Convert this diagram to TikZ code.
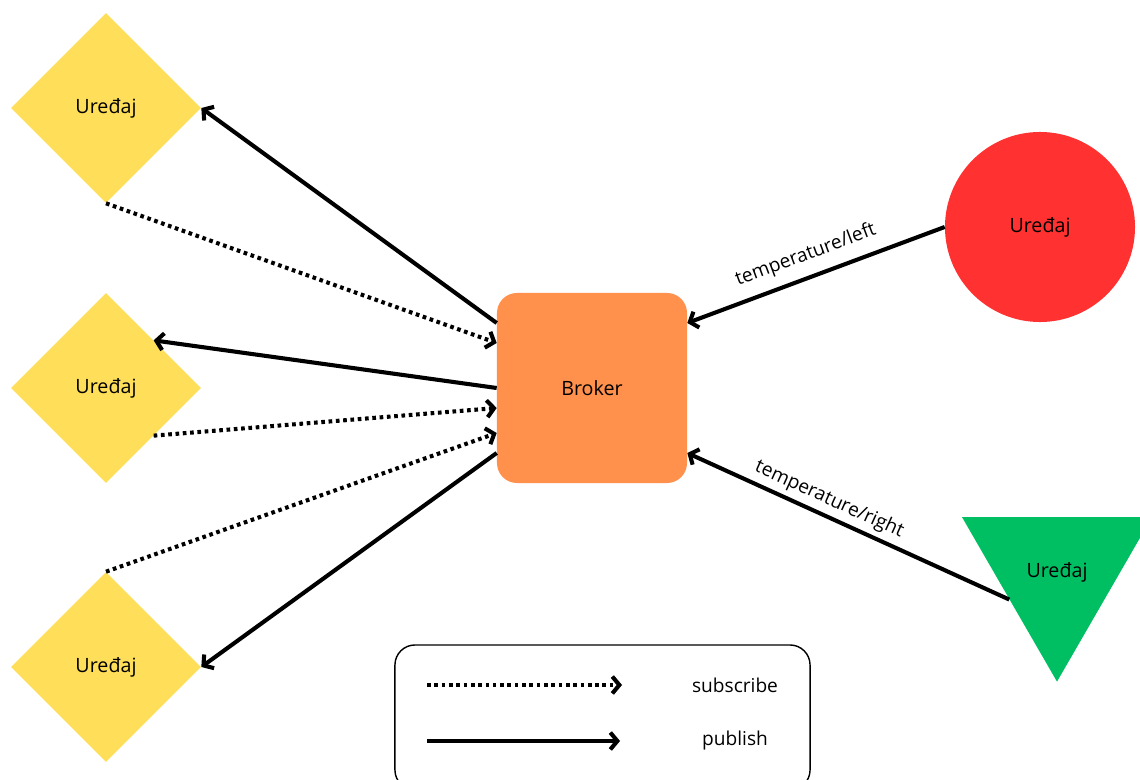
\documentclass[tikz,border=0pt]{standalone}
\usepackage{fontspec}
\setmainfont{Open Sans}
\usetikzlibrary{shapes.geometric,arrows.meta,calc}
\definecolor{devyellow}{HTML}{FFDE59}
\definecolor{brokerorange}{HTML}{FF914D}
\definecolor{devred}{HTML}{FF3131}
\definecolor{devgreen}{HTML}{00BF63}

\begin{document}
\begin{tikzpicture}[x=0.025cm,y=-0.025cm,
    label font/.style={font=\fontsize{14}{17}\selectfont},
    device/.style={diamond,fill=devyellow,minimum width=4.75cm,
      minimum height=4.75cm,inner sep=0pt,label font},
    pub/.style={line width=2.9pt,-{Straight Barb[length=5pt,width=12pt]}},
    sub/.style={pub,dash pattern=on 2.6pt off 2.6pt},
    topic/.style={font=\fontsize{13.6}{16}\selectfont,sloped,above}]
  \useasboundingbox (0,0) rectangle (1140,780);
  \clip (0,0) rectangle (1140,780);

  % devices on the left
  \node[device] (d1) at (106,108) {Uređaj};
  \node[device] (d2) at (106,388) {Uređaj};
  \node[device] (d3) at (106,667) {Uređaj};

  % broker and publishers
  \node[rectangle,rounded corners=0.5cm,fill=brokerorange,
    minimum size=4.75cm,label font] (broker) at (592,388) {Broker};
  \node[circle,fill=devred,minimum size=4.75cm,label font] (circ)
    at (1040,227) {Uređaj};
  \node[regular polygon,regular polygon sides=3,shape border rotate=180,
    fill=devgreen,minimum size=5.48cm,inner sep=0pt,label font] (tri)
    at (1057,572) {Uređaj};

  \draw[pub] ($(broker.west)+(0,-65)$) -- (d1.east);
  \draw[sub] (d1.south) -- ($(broker.west)+(0,-45)$);
  \draw[pub] (broker.west) -- (d2.north east);
  \draw[sub] (d2.south east) -- ($(broker.west)+(0,20)$);
  \draw[sub] (d3.north) -- ($(broker.west)+(0,45)$);
  \draw[pub] ($(broker.west)+(0,65)$) -- (d3.east);

  \draw[pub] (circ.west) -- node[topic,pos=0.51,yshift=4pt] {temperature/left}
    ($(broker.east)+(0,-65)$);
  \draw[pub] (tri.side 3) -- node[topic,pos=0.58] {temperature/right}
    ($(broker.east)+(0,65)$);

  % legend
  \node[draw,line width=1pt,rounded corners=0.5cm,minimum width=10.375cm,
    minimum height=3.625cm] (legend) at (602.5,717.5) {};
  \coordinate (subA) at (427,685);
  \coordinate (subB) at (622,685);
  \coordinate (pubA) at (427,741);
  \coordinate (pubB) at (620,741);
  \draw[sub] (subA) -- (subB);
  \draw[pub] (pubA) -- (pubB);
  \node[font=\fontsize{13.6}{16}\selectfont] (subtext) at (735,685) {subscribe};
  \node[font=\fontsize{13.6}{16}\selectfont] (pubtext) at (735,741) {publish};
\end{tikzpicture}
\end{document}
